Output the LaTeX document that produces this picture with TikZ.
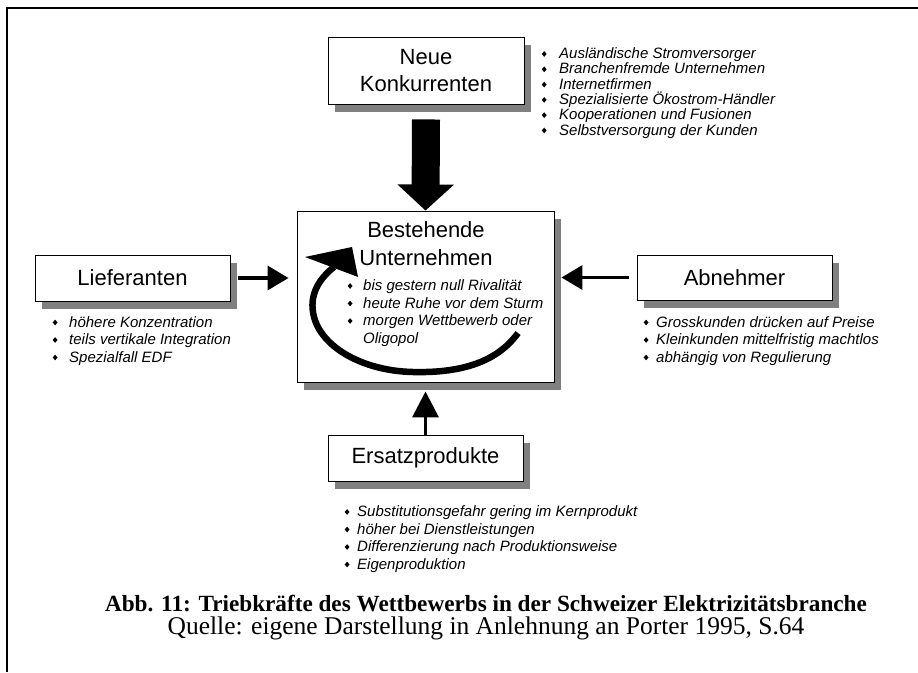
\documentclass[tikz,border=0pt]{standalone}
\usepackage{fontspec}
\setmainfont{Liberation Serif}
\newfontfamily\arial{Liberation Sans}
\usetikzlibrary{arrows.meta,shadows,calc}
\definecolor{shadowgray}{RGB}{128,128,128}
\newcommand{\bul}{\raisebox{1.7pt}{\scalebox{0.85}[1]{\rotatebox{45}{\rule{4pt}{4pt}}}}}
\begin{document}
\begin{tikzpicture}[x=1pt,y=-1pt,
  forcebox/.style={draw=black, line width=0.9pt, fill=white, rectangle, inner sep=0pt,
     drop shadow={shadow xshift=7pt, shadow yshift=-7.5pt, fill=shadowgray, opacity=1}},
  boxtitle/.style={font=\arial\fontsize{22}{27.5}\selectfont, align=center, inner sep=0pt},
  item/.style={font=\arial\itshape\fontsize{15}{17.5}\selectfont, anchor=base west, inner sep=0pt},
  nkitem/.style={item},
  bigarrow/.style={line width=28pt, -{Triangle[length=26pt,width=55pt]}},
  forcearrow/.style={line width=3.5pt, -{Triangle[length=21pt,width=24pt]}},
  uparrow/.style={line width=3.5pt, -{Triangle[length=26pt,width=26pt]}},
  caption/.style={font=\fontsize{23.2}{27}\selectfont\bfseries, inner sep=0pt},
  source/.style={font=\fontsize{25.5}{29}\selectfont, inner sep=0pt}
]
\useasboundingbox (0,0) rectangle (918,672);
\fill[white] (0,0) rectangle (918,672);
% frame (top and left only)
\draw[line width=2pt] (6.5,672) -- (6.5,7.5) -- (918,7.5);

% boxes
\node[forcebox, minimum width=196pt, minimum height=67pt] (nk) at (426,70.5) {};
\node[forcebox, minimum width=257pt, minimum height=171pt] (best) at (425.5,296.5) {};
\node[forcebox, minimum width=195pt, minimum height=46pt] (lief) at (132.5,278) {};
\node[forcebox, minimum width=195pt, minimum height=45pt] (abn) at (734.5,277.5) {};
\node[forcebox, minimum width=195pt, minimum height=46pt] (ers) at (425.5,458) {};

% box titles
\node[boxtitle] (nkt) at (nk.center) {Neue\\Konkurrenten};
\node[boxtitle] (bestt) at (426,243.5) {Bestehende\\Unternehmen};
\node[boxtitle] (lieft) at (lief.center) {Lieferanten};
\node[boxtitle] (abnt) at (abn.center) {Abnehmer};
\node[boxtitle] (erst) at (ers.center) {Ersatzprodukte};

% arrows
\draw[bigarrow] ($(nk.south)+(0,15)$) -- (best.north);
\draw[forcearrow] ($(lief.east)+(7.5,0)$) -- ($(lief.east -| best.west)+(-8,0)$);
\draw[forcearrow] ($(abn.west)+(-8,0)$) -- ($(abn.west -| best.east)+(7,0)$);
\draw[uparrow] (ers.north) -- ($(best.south)+(0,9)$);

% rivalry circle arrow
\draw[line width=6.5pt] (518,333) .. controls (495,365) and (455,373) .. (413,372)
   .. controls (362,371) and (318,346) .. (313,312)
   .. controls (310,293) and (320,278) .. (334,267);
\fill (305,257) -- (352,247) -- (358,277) -- cycle;

% lists
\foreach \t [count=\i from 0] in {Ausländische Stromversorger, Branchenfremde Unternehmen, Internetfirmen, Spezialisierte Ökostrom-Händler, Kooperationen und Fusionen, Selbstversorgung der Kunden}
  \node[nkitem, name=nk\i] at (541.6, 58.5+\i*15.3) {\makebox[17.4pt][l]{\bul}\t};

\foreach \t [count=\i from 0] in {bis gestern null Rivalität, heute Ruhe vor dem Sturm, morgen Wettbewerb oder}
  \node[item, name=be\i] at (347.5, 290.5+\i*17.5) {\makebox[15.5pt][l]{\bul}\t};
\node[item] (be3) at (363, 343) {Oligopol};

\foreach \t [count=\i from 0] in {höhere Konzentration, teils vertikale Integration, Spezialfall EDF}
  \node[item, name=li\i] at (52.5, 327+\i*17.5) {\makebox[16.5pt][l]{\bul}\t};

\foreach \t [count=\i from 0] in {Grosskunden drücken auf Preise, Kleinkunden mittelfristig machtlos, abhängig von Regulierung}
  \node[item, name=ab\i] at (643.5, 327+\i*17.5) {\makebox[12.5pt][l]{\bul}\t};

\foreach \t [count=\i from 0] in {Substitutionsgefahr gering im Kernprodukt, höher bei Dienstleistungen, Differenzierung nach Produktionsweise, Eigenproduktion}
  \node[item, name=er\i] at (344.5, 516.5+\i*17.5) {\makebox[12.5pt][l]{\bul}\t};

% caption
\node[caption] (cap) at (486,603) {Abb. 11: Triebkräfte des Wettbewerbs in der Schweizer Elektrizitätsbranche};
\node[source] (src) at (486,628) {Quelle: eigene Darstellung in Anlehnung an Porter 1995, S.64};
\end{tikzpicture}
\end{document}
